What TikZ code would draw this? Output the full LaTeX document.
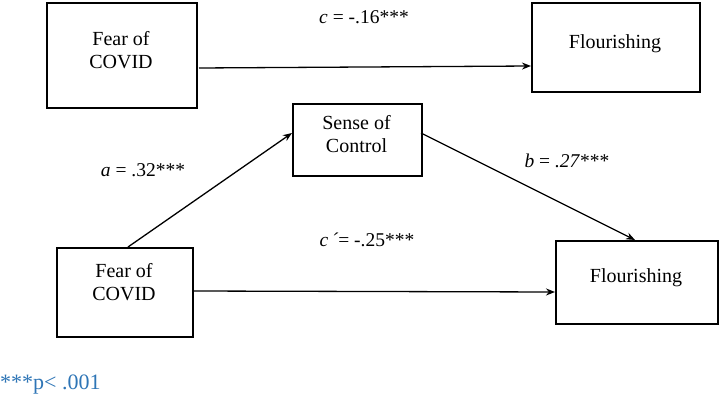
\documentclass[tikz,border=0pt]{standalone}
\usepackage{fontspec}
\setmainfont{Liberation Serif}
\usetikzlibrary{arrows.meta}
\definecolor{notecol}{RGB}{46,117,182}
\begin{document}
\begin{tikzpicture}[x=1pt,y=-1pt,
  box/.style={draw,line width=1.6pt,inner sep=0pt,anchor=north west},
  txt/.style={font=\fontsize{20}{23}\selectfont,align=center},
  arr/.style={line width=1.3pt,-{Stealth[length=9pt,width=7pt]}},
  lab/.style={font=\fontsize{19.5}{22}\selectfont}]
\useasboundingbox (0,0) rectangle (720,401);
% boxes
\node[box,minimum width=150pt,minimum height=105pt] (f1) at (46,2) {};
\node[txt] (f1t) at (121,50) {Fear of\\COVID};
\node[box,minimum width=168pt,minimum height=89pt] (fl1) at (531,2) {};
\node[txt] (fl1t) at (615,44) {Flourishing};
\node[box,minimum width=129pt,minimum height=72pt] (sc) at (292,103) {};
\node[txt] (sct) at (356.5,134) {Sense of\\Control};
\node[box,minimum width=136pt,minimum height=89pt] (f2) at (56,247) {};
\node[txt] (f2t) at (124,282) {Fear of\\COVID};
\node[box,minimum width=162pt,minimum height=83pt] (fl2) at (555,240) {};
\node[txt] (fl2t) at (636,278) {Flourishing};
% connection points
\coordinate (c1s) at (199,68);
\coordinate (c1e) at (531,66);
\coordinate (as) at (128,247);
\coordinate (ae) at (292,133);
\coordinate (bs) at (421,133);
\coordinate (be) at (635,240);
\coordinate (cps) at (192,291);
\coordinate (cpe) at (555,292);
\draw[arr] (c1s) -- (c1e);
\draw[arr] (as) -- (ae);
\draw[arr] (bs) -- (be);
\draw[arr] (cps) -- (cpe);
% labels
\node[lab] (lc) at (364,17) {\textit{c} = -.16***};
\node[lab] (la) at (143,170) {\textit{a} = .32***};
\node[lab] (lb) at (567,161) {\textit{b} = \textit{.27}***};
\node[lab] (lcp) at (367,240) {\textit{c\,´}= -.25***};
\node[lab,font=\fontsize{22}{24}\selectfont,text=notecol,anchor=west,inner sep=0pt] (note) at (0,385) {***p< .001};
\end{tikzpicture}
\end{document}
